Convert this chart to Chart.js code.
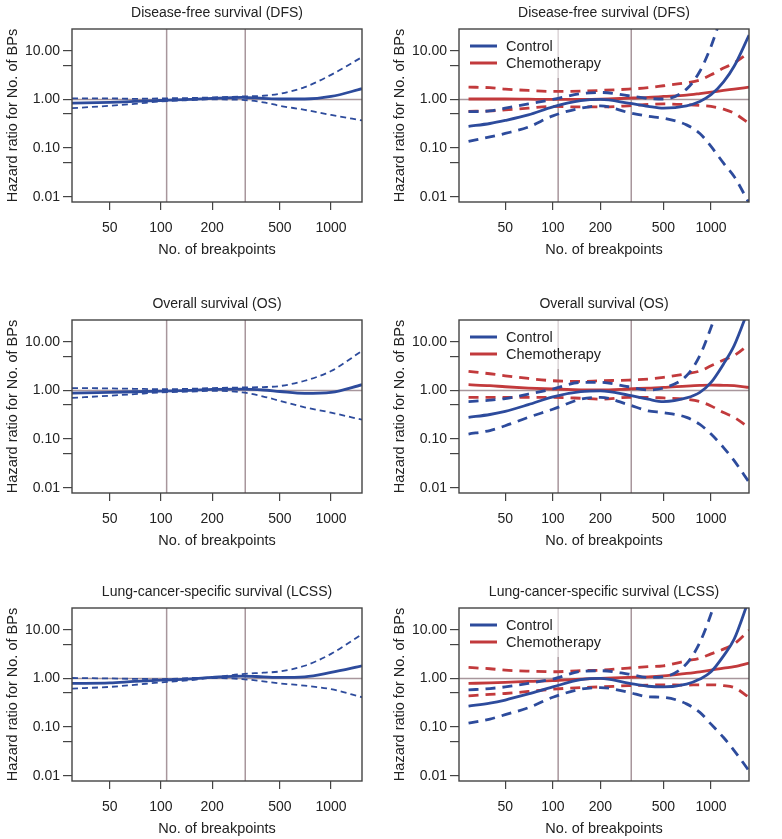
<!DOCTYPE html>
<html>
<head>
<meta charset="utf-8">
<script src="https://cdn.jsdelivr.net/npm/chart.js@4.4.0/dist/chart.umd.min.js"></script>
<style>
  body { margin: 0; background: #fff; width: 782px; height: 839px; position: relative; overflow: hidden; }
  .panel { position: absolute; width: 391px; height: 260px; }
</style>
</head>
<body>
<div class="panel" style="left:0;top:0"><canvas id="dfs-all" width="391" height="260"></canvas></div>
<div class="panel" style="left:391px;top:0"><canvas id="dfs-grp" width="391" height="260"></canvas></div>
<div class="panel" style="left:0;top:291px"><canvas id="os-all" width="391" height="260"></canvas></div>
<div class="panel" style="left:391px;top:291px"><canvas id="os-grp" width="391" height="260"></canvas></div>
<div class="panel" style="left:0;top:579px"><canvas id="lcss-all" width="391" height="260"></canvas></div>
<div class="panel" style="left:391px;top:579px"><canvas id="lcss-grp" width="391" height="260"></canvas></div>

<script>
// --- data ---
const xTicks = [50, 100, 200, 500, 1000];
const xTickLabels = ['50', '100', '200', '500', '1000'];
const yTicks = [0.01, 0.05, 0.1, 0.5, 1, 5, 10];
const yTickLabels = ['0.01', '', '0.10', '', '1.00', '', '10.00'];
const cutPoints = [108, 313];
const groupNames = ['Control', 'Chemotherapy'];

// all patients (left column)
const xOverall = [30, 50, 70, 100, 150, 200, 300, 400, 500, 700, 1000, 1520];
const dfsAllHR    = [0.84, 0.87, 0.91, 0.95, 1.0, 1.05, 1.1, 1.05, 1.02, 1.02, 1.15, 1.66];
const dfsAllUpper = [1.05, 1.05, 1.03, 1.05, 1.07, 1.1, 1.15, 1.19, 1.31, 1.79, 3.2, 7.4];
const dfsAllLower = [0.66, 0.74, 0.81, 0.91, 0.97, 1.0, 0.98, 0.87, 0.74, 0.61, 0.48, 0.37];
const osAllHR     = [0.88, 0.91, 0.94, 0.97, 1.0, 1.05, 1.06, 1.02, 0.95, 0.87, 0.91, 1.31];
const osAllUpper  = [1.12, 1.10, 1.08, 1.06, 1.08, 1.12, 1.15, 1.17, 1.23, 1.58, 2.5, 6.5];
const osAllLower  = [0.70, 0.78, 0.84, 0.91, 0.95, 0.98, 0.91, 0.75, 0.61, 0.45, 0.35, 0.25];
const lcssAllHR    = [0.79, 0.81, 0.87, 0.92, 0.98, 1.05, 1.12, 1.08, 1.05, 1.08, 1.33, 1.82];
const lcssAllUpper = [1.02, 1.0, 0.98, 0.97, 1.02, 1.05, 1.23, 1.31, 1.39, 1.82, 3.2, 8.1];
const lcssAllLower = [0.62, 0.67, 0.74, 0.83, 0.92, 1.02, 0.97, 0.87, 0.79, 0.71, 0.60, 0.41];

// by treatment group (right column)
const xGroup = [29.3, 40, 50, 70, 100, 150, 200, 300, 400, 500, 700, 850, 1000, 1200, 1400, 1740];
const dfsCtrlHR     = [0.28, 0.32, 0.37, 0.48, 0.70, 0.94, 1.0, 0.84, 0.72, 0.66, 0.74, 0.91, 1.25, 2.3, 4.8, 21];
const dfsCtrlUpper  = [0.56, 0.58, 0.66, 0.81, 1.0, 1.31, 1.39, 1.19, 1.05, 1.02, 1.63, 3.8, 12.3, 70, 300, 3000];
const dfsCtrlLower  = [0.137, 0.17, 0.20, 0.27, 0.46, 0.66, 0.74, 0.54, 0.45, 0.41, 0.30, 0.20, 0.108, 0.049, 0.026, 0.0074];
const dfsChemoHR    = [1.02, 1.02, 1.02, 1.01, 1.0, 1.0, 1.01, 1.06, 1.1, 1.15, 1.23, 1.32, 1.41, 1.53, 1.63, 1.79];
const dfsChemoUpper = [1.79, 1.74, 1.63, 1.53, 1.46, 1.48, 1.53, 1.63, 1.74, 1.91, 2.2, 2.5, 3.2, 4.4, 5.6, 9.2];
const dfsChemoLower = [0.57, 0.58, 0.61, 0.66, 0.72, 0.70, 0.70, 0.74, 0.79, 0.81, 0.78, 0.75, 0.72, 0.63, 0.52, 0.32];

const osCtrlHR     = [0.28, 0.32, 0.37, 0.51, 0.74, 0.94, 0.98, 0.80, 0.66, 0.59, 0.70, 0.91, 1.46, 3.5, 8.3, 50];
const osCtrlUpper  = [0.59, 0.63, 0.68, 0.84, 1.07, 1.46, 1.46, 1.19, 1.02, 1.12, 2.0, 5.2, 19.7, 110, 500, 5000];
const osCtrlLower  = [0.127, 0.15, 0.188, 0.28, 0.41, 0.66, 0.72, 0.51, 0.38, 0.35, 0.28, 0.20, 0.127, 0.067, 0.036, 0.013];
const osChemoHR    = [1.31, 1.25, 1.19, 1.12, 1.07, 1.03, 1.02, 1.07, 1.12, 1.15, 1.23, 1.27, 1.29, 1.27, 1.25, 1.15];
const osChemoUpper = [2.46, 2.2, 2.0, 1.76, 1.58, 1.53, 1.58, 1.63, 1.71, 1.85, 2.2, 2.5, 3.2, 4.2, 5.2, 8.9];
const osChemoLower = [0.72, 0.72, 0.72, 0.72, 0.72, 0.69, 0.66, 0.72, 0.72, 0.70, 0.66, 0.59, 0.48, 0.35, 0.28, 0.17];

const lcssCtrlHR     = [0.27, 0.31, 0.36, 0.48, 0.67, 0.94, 1.0, 0.80, 0.69, 0.67, 0.76, 0.97, 1.37, 2.9, 6.4, 43];
const lcssCtrlUpper  = [0.58, 0.62, 0.67, 0.79, 0.97, 1.39, 1.44, 1.23, 1.05, 1.08, 2.0, 5.5, 21, 140, 600, 6000];
const lcssCtrlLower  = [0.12, 0.146, 0.18, 0.25, 0.41, 0.60, 0.65, 0.52, 0.42, 0.41, 0.30, 0.20, 0.115, 0.061, 0.033, 0.0126];
const lcssChemoHR    = [0.79, 0.81, 0.83, 0.87, 0.90, 0.97, 1.0, 1.05, 1.08, 1.13, 1.27, 1.37, 1.48, 1.63, 1.74, 2.07];
const lcssChemoUpper = [1.68, 1.58, 1.48, 1.41, 1.37, 1.44, 1.48, 1.63, 1.74, 1.82, 2.3, 2.6, 3.2, 4.0, 5.1, 9.8];
const lcssChemoLower = [0.44, 0.47, 0.49, 0.54, 0.60, 0.65, 0.67, 0.71, 0.73, 0.74, 0.73, 0.74, 0.74, 0.71, 0.65, 0.41];

const BLUE = '#2d4b9c';
const RED = '#c23a3c';
const REF = '#a8969c';
const INK = '#222';
const FRAME = '#444';

Chart.defaults.font.family = "'Liberation Sans', Arial, Helvetica, sans-serif";
Chart.defaults.color = INK;

const pts = (xs, ys) => xs.map((x, i) => ({ x, y: ys[i] }));

function curve(label, xs, ys, color, dashed, thin) {
  return {
    label,
    data: pts(xs, ys),
    borderColor: color,
    borderWidth: thin ? 1.8 : 2.8,
    borderDash: dashed ? (thin ? [6, 4] : [10, 7]) : [],
    pointRadius: 0,
    fill: false,
    cubicInterpolationMode: 'monotone',
    clip: 0
  };
}

function refLines(xmin, xmax, ymin, ymax) {
  const lines = cutPoints.map(c => [{ x: c, y: ymin }, { x: c, y: ymax }]);
  lines.push([{ x: xmin, y: 1 }, { x: xmax, y: 1 }]);
  return lines.map(d => ({
    label: 'ref', data: d, borderColor: REF, borderWidth: 1.5,
    pointRadius: 0, tension: 0, fill: false, clip: 0
  }));
}

// plot frame + in-plot legend
const framePlugin = {
  id: 'frame',
  afterDatasetsDraw(chart, args, opts) {
    const { ctx, chartArea: a } = chart;
    ctx.save();
    if (opts.legend) {
      ctx.fillStyle = 'rgba(255,255,255,0.6)';
      ctx.fillRect(a.left, a.top, 152, 49);
      ctx.font = "14.5px 'Liberation Sans', Arial, sans-serif";
      ctx.textBaseline = 'middle';
      opts.legend.forEach((it, i) => {
        const y = a.top + 17 + i * 17;
        ctx.strokeStyle = it.color;
        ctx.lineWidth = 3;
        ctx.beginPath();
        ctx.moveTo(a.left + 11, y);
        ctx.lineTo(a.left + 38, y);
        ctx.stroke();
        ctx.fillStyle = INK;
        ctx.fillText(it.label, a.left + 47, y + 1);
      });
    }
    ctx.strokeStyle = FRAME;
    ctx.lineWidth = 1.4;
    ctx.strokeRect(a.left, a.top, a.right - a.left, a.bottom - a.top);
    ctx.restore();
  }
};

function makeChart(id, title, datasets, isGroup) {
  const xmin = isGroup ? 25.5 : 30;
  const xmax = isGroup ? 1738 : 1520;
  const ymin = 0.0078, ymax = 28;
  return new Chart(document.getElementById(id), {
    type: 'line',
    data: { datasets: datasets.concat(refLines(xmin, xmax, ymin, ymax)) },
    options: {
      responsive: false,
      animation: false,
      layout: { padding: { left: 0, top: 0, bottom: 0, right: isGroup ? 33 : 29 } },
      plugins: {
        legend: { display: false },
        tooltip: { enabled: false },
        title: {
          display: true, text: title, fullSize: false, color: INK,
          font: { size: 14, weight: 'normal' },
          padding: { top: 5, bottom: 7.2 }
        },
        frame: {
          legend: isGroup ? [
            { label: groupNames[0], color: BLUE },
            { label: groupNames[1], color: RED }
          ] : null
        }
      },
      scales: {
        x: {
          type: 'logarithmic', min: xmin, max: xmax,
          afterBuildTicks: s => { s.ticks = xTicks.map(v => ({ value: v })); },
          afterFit: s => { s.height = 58; },
          ticks: {
            callback: (v, i) => xTickLabels[i],
            autoSkip: false, maxRotation: 0, padding: 10, color: INK,
            font: { size: 14 }
          },
          grid: { drawOnChartArea: false, tickLength: 8, color: FRAME, lineWidth: 1.2 },
          border: { display: false },
          title: {
            display: true, text: 'No. of breakpoints', color: INK,
            font: { size: 14.5 }, padding: { top: 0, bottom: 1.3 }
          }
        },
        y: {
          type: 'logarithmic', min: ymin, max: ymax,
          afterBuildTicks: s => { s.ticks = yTicks.map(v => ({ value: v })); },
          afterFit: s => { s.width = isGroup ? 68 : 72; },
          ticks: {
            callback: (v, i) => yTickLabels[i],
            autoSkip: false, padding: 3, color: INK,
            font: { size: 14 }
          },
          grid: { drawOnChartArea: false, tickLength: 9, color: FRAME, lineWidth: 1.2 },
          border: { display: false },
          title: {
            display: true, text: 'Hazard ratio for No. of BPs', color: INK,
            font: { size: 14.5 }, padding: { top: isGroup ? 0 : 4, bottom: 0 }
          }
        }
      }
    },
    plugins: [framePlugin]
  });
}

function overallSets(hr, lo, hi) {
  return [
    curve('HR', xOverall, hr, BLUE, false, false),
    curve('Upper 95% CI', xOverall, hi, BLUE, true, true),
    curve('Lower 95% CI', xOverall, lo, BLUE, true, true)
  ];
}

function groupSets(cHR, cLo, cHi, tHR, tLo, tHi) {
  return [
    curve(groupNames[0], xGroup, cHR, BLUE, false),
    curve(groupNames[0] + ' upper', xGroup, cHi, BLUE, true),
    curve(groupNames[0] + ' lower', xGroup, cLo, BLUE, true),
    curve(groupNames[1], xGroup, tHR, RED, false),
    curve(groupNames[1] + ' upper', xGroup, tHi, RED, true),
    curve(groupNames[1] + ' lower', xGroup, tLo, RED, true)
  ];
}

makeChart('dfs-all', 'Disease-free survival (DFS)', overallSets(dfsAllHR, dfsAllLower, dfsAllUpper), false);
makeChart('dfs-grp', 'Disease-free survival (DFS)',
  groupSets(dfsCtrlHR, dfsCtrlLower, dfsCtrlUpper, dfsChemoHR, dfsChemoLower, dfsChemoUpper), true);
makeChart('os-all', 'Overall survival (OS)', overallSets(osAllHR, osAllLower, osAllUpper), false);
makeChart('os-grp', 'Overall survival (OS)',
  groupSets(osCtrlHR, osCtrlLower, osCtrlUpper, osChemoHR, osChemoLower, osChemoUpper), true);
makeChart('lcss-all', 'Lung-cancer-specific survival (LCSS)', overallSets(lcssAllHR, lcssAllLower, lcssAllUpper), false);
makeChart('lcss-grp', 'Lung-cancer-specific survival (LCSS)',
  groupSets(lcssCtrlHR, lcssCtrlLower, lcssCtrlUpper, lcssChemoHR, lcssChemoLower, lcssChemoUpper), true);
</script>
</body>
</html>
